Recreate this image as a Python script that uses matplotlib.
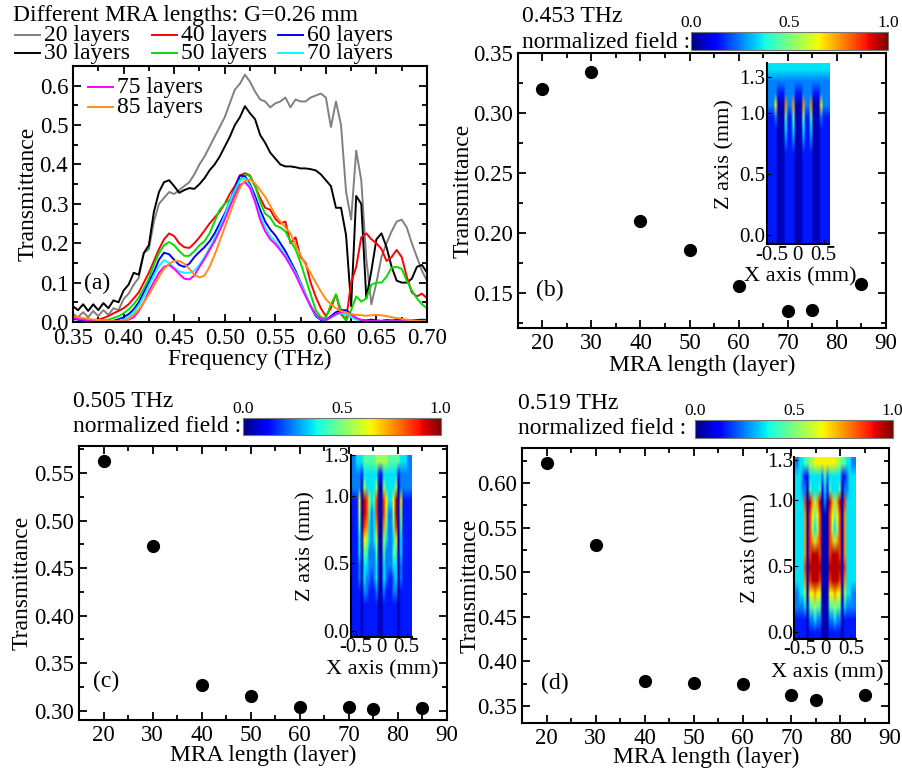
import matplotlib
matplotlib.use("Agg")
import matplotlib.pyplot as plt
import numpy as np
from matplotlib.lines import Line2D
from matplotlib.ticker import MultipleLocator, FormatStrFormatter

plt.rcParams["font.family"] = ["Liberation Serif", "DejaVu Serif"]
plt.rcParams["axes.unicode_minus"] = False

W, H = 903, 770

# ---- (a) transmittance spectra, G = 0.26 mm ----
freq = np.round(np.arange(0.35, 0.7001, 0.005), 3)

t20 = [0.020, 0.012, 0.025, 0.012, 0.028, 0.015, 0.030, 0.018, 0.035, 0.030,
       0.058, 0.072, 0.095, 0.112, 0.175, 0.185, 0.255, 0.300, 0.315, 0.330,
       0.325, 0.335, 0.345, 0.355, 0.375, 0.400, 0.420, 0.445, 0.470, 0.495,
       0.520, 0.555, 0.590, 0.605, 0.628, 0.610, 0.585, 0.565, 0.560, 0.545,
       0.555, 0.560, 0.570, 0.545, 0.565, 0.560, 0.560, 0.570, 0.575, 0.580,
       0.570, 0.495, 0.560, 0.500, 0.330, 0.260, 0.435, 0.360, 0.160, 0.045,
       0.100, 0.165, 0.200, 0.230, 0.255, 0.260, 0.240, 0.200, 0.165, 0.130,
       0.105]
t30 = [0.040, 0.030, 0.045, 0.028, 0.045, 0.030, 0.048, 0.035, 0.055, 0.050,
       0.080, 0.095, 0.125, 0.120, 0.175, 0.195, 0.280, 0.330, 0.355, 0.360,
       0.345, 0.328, 0.335, 0.340, 0.338, 0.350, 0.365, 0.385, 0.400, 0.420,
       0.445, 0.470, 0.500, 0.520, 0.548, 0.530, 0.515, 0.475, 0.455, 0.430,
       0.415, 0.400, 0.395, 0.395, 0.393, 0.390, 0.390, 0.388, 0.385, 0.375,
       0.360, 0.345, 0.290, 0.290, 0.220, 0.040, 0.320, 0.300, 0.060, 0.130,
       0.210, 0.225, 0.190, 0.140, 0.105, 0.100, 0.100, 0.110, 0.140, 0.145,
       0.125]
t40 = [0.012, 0.010, 0.008, 0.006, 0.005, 0.006, 0.010, 0.015, 0.022, 0.028,
       0.035, 0.045, 0.060, 0.075, 0.100, 0.125, 0.155, 0.185, 0.210, 0.225,
       0.218, 0.200, 0.190, 0.188, 0.200, 0.215, 0.232, 0.250, 0.265, 0.280,
       0.300, 0.325, 0.345, 0.372, 0.378, 0.372, 0.345, 0.315, 0.290, 0.285,
       0.262, 0.250, 0.255, 0.200, 0.215, 0.165, 0.150, 0.100, 0.064, 0.035,
       0.015, 0.035, 0.070, 0.020, 0.005, 0.100, 0.140, 0.215, 0.225, 0.210,
       0.200, 0.185, 0.155, 0.165, 0.183, 0.165, 0.115, 0.075, 0.065, 0.072,
       0.060]
t50 = [0.010, 0.008, 0.006, 0.004, 0.003, 0.003, 0.004, 0.006, 0.010, 0.015,
       0.022, 0.032, 0.045, 0.062, 0.085, 0.110, 0.145, 0.175, 0.195, 0.203,
       0.195, 0.180, 0.168, 0.168, 0.180, 0.195, 0.205, 0.225, 0.255, 0.285,
       0.300, 0.310, 0.325, 0.360, 0.375, 0.370, 0.345, 0.305, 0.275, 0.265,
       0.245, 0.240, 0.230, 0.205, 0.185, 0.150, 0.110, 0.070, 0.030, 0.012,
       0.010, 0.045, 0.070, 0.030, 0.002, 0.030, 0.065, 0.052, 0.060, 0.095,
       0.100, 0.100, 0.115, 0.138, 0.140, 0.135, 0.105, 0.080, 0.060, 0.045,
       0.035]
t60 = [0.008, 0.006, 0.004, 0.003, 0.002, 0.001, 0.000, 0.001, 0.003, 0.007,
       0.012, 0.020, 0.032, 0.050, 0.075, 0.100, 0.128, 0.158, 0.176, 0.172,
       0.158, 0.145, 0.140, 0.148, 0.165, 0.178, 0.190, 0.205, 0.225, 0.250,
       0.275, 0.305, 0.340, 0.372, 0.370, 0.350, 0.320, 0.285, 0.255, 0.235,
       0.220, 0.200, 0.180, 0.155, 0.130, 0.100, 0.070, 0.040, 0.015, 0.005,
       0.005, 0.015, 0.025, 0.030, 0.030, 0.020, 0.010, 0.005, 0.004, 0.006,
       0.004, 0.003, 0.005, 0.004, 0.005, 0.006, 0.005, 0.004, 0.005, 0.006,
       0.005]
t70 = [0.012, 0.010, 0.008, 0.006, 0.005, 0.004, 0.003, 0.002, 0.002, 0.003,
       0.006, 0.012, 0.025, 0.042, 0.065, 0.092, 0.118, 0.142, 0.157, 0.150,
       0.138, 0.128, 0.125, 0.125, 0.130, 0.145, 0.165, 0.188, 0.212, 0.240,
       0.270, 0.305, 0.335, 0.360, 0.365, 0.345, 0.310, 0.270, 0.240, 0.218,
       0.205, 0.188, 0.170, 0.148, 0.125, 0.098, 0.070, 0.042, 0.018, 0.007,
       0.005, 0.010, 0.018, 0.022, 0.020, 0.012, 0.006, 0.003, 0.002, 0.002,
       0.002, 0.002, 0.002, 0.002, 0.002, 0.002, 0.002, 0.002, 0.002, 0.002,
       0.002]
t75 = [0.010, 0.008, 0.006, 0.004, 0.003, 0.002, 0.002, 0.002, 0.002, 0.002,
       0.003, 0.006, 0.012, 0.028, 0.050, 0.078, 0.102, 0.125, 0.140, 0.145,
       0.135, 0.122, 0.110, 0.108, 0.118, 0.140, 0.160, 0.183, 0.205, 0.232,
       0.260, 0.292, 0.322, 0.348, 0.355, 0.340, 0.305, 0.260, 0.230, 0.210,
       0.198, 0.182, 0.165, 0.143, 0.120, 0.092, 0.065, 0.040, 0.020, 0.008,
       0.005, 0.012, 0.020, 0.025, 0.025, 0.018, 0.010, 0.005, 0.003, 0.002,
       0.002, 0.002, 0.002, 0.002, 0.002, 0.002, 0.002, 0.002, 0.002, 0.002,
       0.002]
t85 = [0.015, 0.012, 0.010, 0.008, 0.006, 0.005, 0.004, 0.003, 0.002, 0.002,
       0.003, 0.008, 0.018, 0.032, 0.050, 0.070, 0.092, 0.115, 0.135, 0.148,
       0.155, 0.155, 0.148, 0.135, 0.120, 0.113, 0.118, 0.140, 0.170, 0.205,
       0.240, 0.275, 0.310, 0.340, 0.360, 0.362, 0.352, 0.335, 0.318, 0.295,
       0.272, 0.255, 0.240, 0.225, 0.195, 0.170, 0.145, 0.124, 0.100, 0.078,
       0.058, 0.045, 0.035, 0.028, 0.024, 0.020, 0.018, 0.017, 0.016, 0.017,
       0.018, 0.017, 0.015, 0.012, 0.010, 0.008, 0.006, 0.004, 0.003, 0.002,
       0.002]

spectra = [t20, t30, t40, t50, t60, t70, t75, t85]
spectra_names = ["20 layers", "30 layers", "40 layers", "50 layers",
                 "60 layers", "70 layers", "75 layers", "85 layers"]
spectra_colors = ["#808080", "#000000", "#ff0000", "#00e000",
                  "#0000ff", "#00ffff", "#ff00ff", "#ff8c1a"]

# ---- (b)-(d) transmittance vs MRA length ----
layers = [20, 30, 40, 50, 60, 70, 75, 85]
t_0453 = [0.320, 0.334, 0.210, 0.186, 0.156, 0.135, 0.136, 0.158]
t_0505 = [0.563, 0.473, 0.327, 0.315, 0.304, 0.304, 0.302, 0.303]
t_0519 = [0.623, 0.530, 0.378, 0.376, 0.374, 0.362, 0.356, 0.362]

# normalized field maps, rows top (z high) to bottom, columns x = -0.6..0.6
# each digit d -> field (d + 0.5) / 10
field_0453 = [
    "3333333333333333333333333",
    "2222222222222222222222222",
    "2222111222211122221112222",
    "2226000722700072270006222",
    "1112000411400041140002111",
    "1111000311300031130001111",
    "1111000211200021120001111",
    "1111000111100011110001111",
    "1111000111100011110001111",
    "1111000111100011110001111",
    "1111000111100011110001111",
    "1111000111100011110001111",
    "1111000111100011110001111",
    "1111000111100011110001111",
    "1111000111100011110001111",
]
field_0505 = [
    "2233344444555554444433322",
    "2222133333311333333122222",
    "2222053333500533335022222",
    "1116098534800863369061111",
    "1115098423800852259051111",
    "1114087323700742248041111",
    "1113065323500532236031111",
    "1113044222400422244031111",
    "1112033222300322233021111",
    "1112032212300321123021111",
    "1111022111200211122011111",
    "1111011111100111111011111",
    "1111011111100111111011111",
    "1111011111100111111011111",
]
field_0519 = [
    "2233445566666666655443322",
    "3332113333324233333112333",
    "3332204333413143334022333",
    "3333809757902097579083333",
    "3333708646800086468073333",
    "3333708535800085358073333",
    "3333708757800087578073333",
    "3333708999800089998073333",
    "3333809999900099999083333",
    "3333708999800089998073333",
    "2233506676600066766053322",
    "2222304454400044544032222",
    "1111102232200022322011111",
    "1111101111100011111011111",
]


def px_rect(left, top, right, bottom):
    return [left / W, 1 - bottom / H, (right - left) / W, (bottom - top) / H]


def style(ax):
    for s in ax.spines.values():
        s.set_linewidth(1.5)
    ax.tick_params(which="both", direction="in", top=True, right=True,
                   labelsize=16.5, width=1.3)
    ax.tick_params(which="major", length=6)
    ax.tick_params(which="minor", length=3.5)


def field_bar(rect):
    cax = fig.add_axes(rect)
    sm = plt.cm.ScalarMappable(cmap="jet", norm=plt.Normalize(0, 1))
    cb = fig.colorbar(sm, cax=cax, orientation="horizontal", ticks=[0, 0.5, 1.0])
    cax.xaxis.set_ticks_position("top")
    cax.set_xticklabels(["0.0", "0.5", "1.0"])
    cax.tick_params(length=0, labelsize=12.5, pad=1)
    cb.outline.set_edgecolor("#777777")
    cb.outline.set_linewidth(0.8)


def field_inset(rect, rows, zlim, xlab_pos, zlab_x):
    ax = fig.add_axes(rect)
    grid = (np.array([[int(c) for c in r] for r in rows]) + 0.5) / 10
    ax.imshow(grid, cmap="jet", vmin=0, vmax=1, aspect="auto",
              extent=(-0.6, 0.6, zlim[0], zlim[1]), interpolation="bilinear")
    ax.set_xlim(-0.6, 0.6)
    ax.set_ylim(*zlim)
    ax.set_xticks([-0.5, 0, 0.5])
    ax.set_xticklabels(["-0.5", "0", "0.5"])
    ax.set_yticks([0, 0.5, 1.0, 1.3])
    ax.set_yticklabels(["0.0", "0.5", "1.0", "1.3"])
    ax.spines["top"].set_visible(False)
    ax.spines["right"].set_visible(False)
    ax.spines["left"].set_linewidth(1.5)
    ax.spines["bottom"].set_linewidth(1.5)
    ax.tick_params(direction="in", length=3, labelsize=15, pad=1)
    ax.set_xlabel("X axis (mm)", fontsize=16)
    ax.set_ylabel("Z axis (mm)", fontsize=16)
    ax.xaxis.set_label_coords(*xlab_pos)
    ax.yaxis.set_label_coords(zlab_x, 0.5)


fig = plt.figure(figsize=(W / 100, H / 100), dpi=100)

# ---------------- panel (a) ----------------
axa = fig.add_axes(px_rect(73, 66, 427, 322))
for vals, col in zip(spectra, spectra_colors):
    axa.plot(freq, vals, color=col, lw=1.4)
axa.set_xlim(0.35, 0.70)
axa.set_ylim(0, 0.65)
axa.xaxis.set_major_locator(MultipleLocator(0.05))
axa.xaxis.set_minor_locator(MultipleLocator(0.025))
axa.yaxis.set_major_locator(MultipleLocator(0.1))
axa.yaxis.set_minor_locator(MultipleLocator(0.05))
axa.xaxis.set_major_formatter(FormatStrFormatter("%.2f"))
axa.yaxis.set_major_formatter(FormatStrFormatter("%.1f"))
style(axa)
axa.tick_params(axis="x", which="major", pad=4)
axa.set_xlabel("Frequency (THz)", fontsize=17)
axa.set_ylabel("Transmittance", fontsize=17)
axa.xaxis.set_label_coords(0.5, -0.105)
axa.yaxis.set_label_coords(-0.096, 0.5)
axa.text(0.069, 0.152, "(a)", transform=axa.transAxes, fontsize=17,
         ha="center", va="center")

fig.text(13 / W, 1 - 15 / H, "Different MRA lengths: G=0.26 mm", fontsize=17,
         ha="left", va="center")
# legend entries (handle start x, row y) in pixels
legend_slots = [(15, 35), (15, 53), (152, 35), (152, 53),
                (278, 35), (278, 53), (88, 87), (88, 107)]
for (x0, y0), name, col in zip(legend_slots, spectra_names, spectra_colors):
    fig.add_artist(Line2D([x0 / W, (x0 + 25) / W], [1 - y0 / H, 1 - y0 / H],
                          transform=fig.transFigure, color=col, lw=1.4))
    fig.text((x0 + 29) / W, 1 - (y0 + 1) / H, name, fontsize=17,
             ha="left", va="center")

# ---------------- panels (b)-(d) ----------------
panels = [
    (t_0453, "0.453 THz", "(b)", px_rect(517.7, 53, 886, 328), (0.121, 0.35),
     (522, 16, 43), px_rect(691, 32, 888, 50),
     px_rect(766.7, 63.3, 829, 244.3), field_0453, (-0.08, 1.41),
     (0.0877, 0.138), (-0.120, -0.099), (0.535, -0.125), -0.52),
    (t_0505, "0.505 THz", "(c)", px_rect(79, 445.7, 447, 720), (0.290, 0.579),
     (73, 402, 427), px_rect(243, 418, 440.7, 435),
     px_rect(350.7, 455, 411.7, 636.7), field_0505, (-0.04, 1.30),
     (0.0747, 0.142), (-0.125, -0.092), (0.52, -0.128), -0.585),
    (t_0519, "0.519 THz", "(d)", px_rect(522.3, 448.3, 889.3, 722.7), (0.331, 0.639),
     (518, 404, 429), px_rect(695, 420, 892.7, 437.7),
     px_rect(794.3, 457.3, 856, 639), field_0519, (-0.05, 1.32),
     (0.089, 0.143), (-0.115, -0.089), (0.53, -0.132), -0.556),
]

for (vals, freq_label, tag, rect, ylim, txt, cb_rect, in_rect, rows, zlim,
     tag_pos, lab_pos, xlab_pos, zlab_x) in panels:
    ax = fig.add_axes(rect)
    ax.plot(layers, vals, "o", color="black", ms=8.5, ls="none")
    ax.set_xlim(15, 90)
    ax.set_ylim(*ylim)
    ax.xaxis.set_major_locator(MultipleLocator(10))
    ax.xaxis.set_minor_locator(MultipleLocator(5))
    ax.set_xticks(np.arange(20, 91, 10))
    ax.yaxis.set_major_locator(MultipleLocator(0.05))
    ax.yaxis.set_minor_locator(MultipleLocator(0.025))
    ax.yaxis.set_major_formatter(FormatStrFormatter("%.2f"))
    style(ax)
    ax.set_xlabel("MRA length (layer)", fontsize=17)
    ax.set_ylabel("Transmittance", fontsize=17)
    ax.yaxis.set_label_coords(lab_pos[0], 0.5)
    ax.xaxis.set_label_coords(0.5, lab_pos[1])
    ax.text(tag_pos[0], tag_pos[1], tag, transform=ax.transAxes, fontsize=17,
            ha="center", va="center")

    fig.text(txt[0] / W, 1 - txt[1] / H, freq_label, fontsize=17,
             ha="left", va="center")
    fig.text(txt[0] / W, 1 - txt[2] / H, "normalized field :", fontsize=17,
             ha="left", va="center")
    field_bar(cb_rect)
    field_inset(in_rect, rows, zlim, xlab_pos, zlab_x)

fig.savefig("out.png", dpi=100)
